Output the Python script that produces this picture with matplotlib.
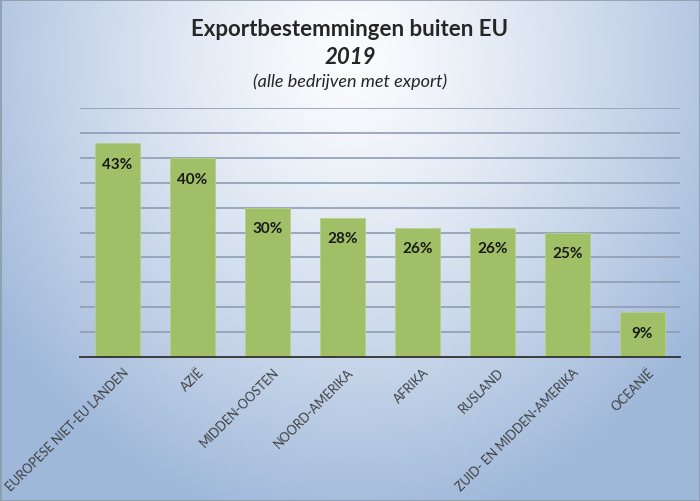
import numpy as np
import matplotlib
matplotlib.use("Agg")
import matplotlib.pyplot as plt
from matplotlib.colors import to_rgb
from matplotlib.patches import Rectangle

categories = ["EUROPESE NIET-EU LANDEN", "AZIË", "MIDDEN-OOSTEN", "NOORD-AMERIKA",
              "AFRIKA", "RUSLAND", "ZUID- EN MIDDEN-AMERIKA", "OCEANIË"]
values = [0.43, 0.40, 0.30, 0.28, 0.26, 0.26, 0.25, 0.09]
title = "Exportbestemmingen buiten EU"
year = "2019"
subtitle = "(alle bedrijven met export)"

FONT = ["Lato", "DejaVu Sans"]
plt.rcParams["font.family"] = FONT

W, H = 700, 502
fig = plt.figure(figsize=(W / 100, H / 100), dpi=100)

# background gradient
bg = fig.add_axes([0, 0, 1, 1])
yy, xx = np.mgrid[0:H, 0:W]
d = np.sqrt(((xx - 350) / 430.0) ** 2 + ((yy - 60) / 470.0) ** 2)
d = np.clip(d, 0, 1) ** 1.3
c0 = np.array(to_rgb("#fbfcfe"))
c1 = np.array(to_rgb("#9fb8da"))
img = c0[None, None, :] * (1 - d[..., None]) + c1[None, None, :] * d[..., None]
bg.imshow(img, aspect="auto", extent=[0, W, H, 0])
bg.set_xlim(0, W)
bg.set_ylim(H, 0)
bg.axis("off")
bg.add_patch(Rectangle((0.5, 0.5), W - 1, H - 1, fill=False, edgecolor="#8e9aa8", lw=1.2))

ax = fig.add_axes([80 / W, 144 / H, 600 / W, 249 / H])
ax.set_facecolor("none")
x = np.arange(len(categories))
ax.bar(x, values, width=0.6, color="#a0bf66", edgecolor="#b6d08a", linewidth=0.6, zorder=3)
ax.set_xlim(-0.5, len(categories) - 0.5)
ax.set_ylim(0, 0.5)
ax.set_yticks(np.arange(0.05, 0.51, 0.05))
ax.yaxis.grid(True, color="#8f9db2", linewidth=1.2, zorder=0)
ax.tick_params(axis="y", left=False, labelleft=False)
ax.tick_params(axis="x", length=0, pad=6)
for s in ["top", "right", "left"]:
    ax.spines[s].set_visible(False)
ax.spines["bottom"].set_color("#303030")
ax.spines["bottom"].set_linewidth(1.3)
ax.spines["bottom"].set_zorder(4)
ax.set_xticks(x)
ax.set_xticklabels(categories, rotation=45, ha="right", rotation_mode="anchor",
                   fontsize=9, color="#404040")
for lbl in ax.get_xticklabels():
    lbl.set_transform(lbl.get_transform() + matplotlib.transforms.ScaledTranslation(5 / 100, 0, fig.dpi_scale_trans))

for xi, v in zip(x, values):
    ax.annotate(f"{int(round(v * 100))}%", (xi, v), xytext=(0, -15), textcoords="offset points",
                ha="center", va="center", fontsize=11, fontweight="bold", color="#1a1a1a", zorder=5)

fig.text(350 / W, 1 - 30 / H, title, ha="center", va="center", fontsize=16, fontweight="bold", color="#262626")
fig.text(350 / W, 1 - 57 / H, year, ha="center", va="center", fontsize=16, fontweight="bold",
         style="italic", color="#262626")
fig.text(350 / W, 1 - 82 / H, subtitle, ha="center", va="center", fontsize=13, style="italic", color="#262626")

fig.savefig("out.png", dpi=100)
